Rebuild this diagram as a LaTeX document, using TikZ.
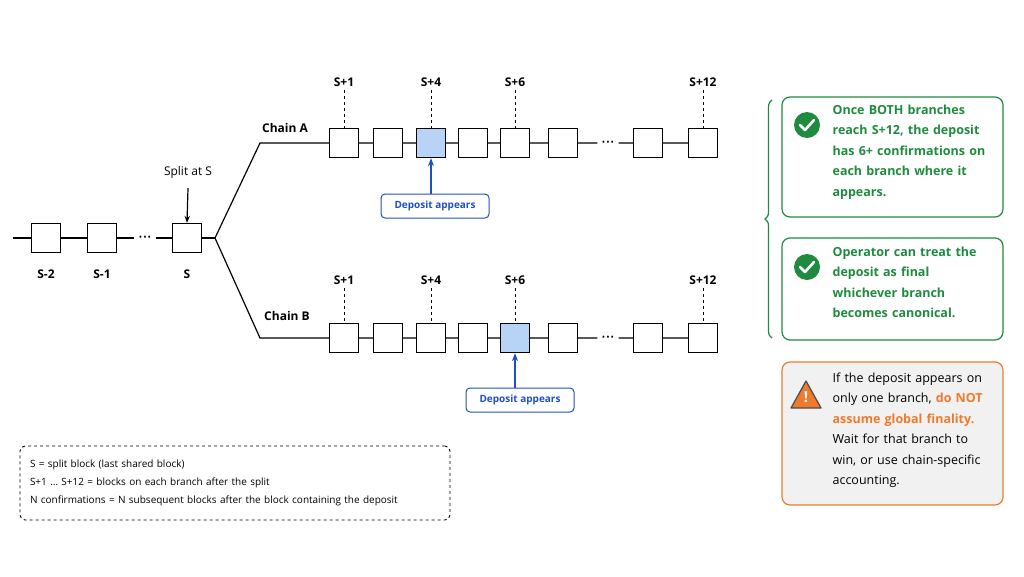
\documentclass[tikz,border=0pt]{standalone}
\usepackage{fontspec}
\setmainfont{Open Sans}
\usetikzlibrary{positioning,decorations.pathreplacing,arrows.meta}
\definecolor{okgreen}{HTML}{1E8B3E}
\definecolor{depblue}{HTML}{1F4FC4}
\definecolor{depfill}{HTML}{B7D3F5}
\definecolor{warnorange}{HTML}{F07A2B}
\definecolor{warnfill}{HTML}{F1F1F1}
\hyphenpenalty=10000
\newcommand{\threedots}{\textbullet\kern1pt\textbullet\kern1pt\textbullet}
\tikzset{
  every path/.style={line width=1.2pt},
  block/.style={draw, line width=1.2pt, fill=white, minimum size=29pt, inner sep=0pt},
  dep/.style={block, fill=depfill},
  dots/.style={inner sep=4pt, font=\fontsize{9}{9}\selectfont},
  lbl/.style={font=\fontsize{12}{14}\selectfont\bfseries},
  deplbl/.style={draw=depblue, line width=1pt, rounded corners=4pt, text=depblue, font=\fontsize{10}{12}\selectfont\bfseries, minimum width=108pt, minimum height=24pt},
  notebox/.style={draw=okgreen, rounded corners=8pt},
  notetext/.style={anchor=north west, inner sep=0pt, text width=172pt, align=left, text=okgreen, font=\fontsize{12.5}{20.5}\selectfont\bfseries},
}
\begin{document}
\begin{tikzpicture}[x=1pt,y=-1pt]
    \useasboundingbox (0,0) rectangle (1024,576);

    % Shared chain before the split
    \coordinate (start) at (13,238);
    \node[block] (s2) at (46,238) {};
    \node[block] (s1) at (102,238) {};
    \node[dots] (sd) at (145,238) {\threedots};
    \node[block] (s0) at (187,238) {};
    \coordinate (fork) at (215,238);
    \draw (start) -- (s2) -- (s1) -- (sd) -- (s0) -- (fork);
    \node[lbl] at (46,274) {S-2};
    \node[lbl] at (102,274) {S-1};
    \node[lbl] at (187,274) {S};
    \node[font=\fontsize{12}{14}\selectfont] (split) at (188,172) {Split at S};
    \coordinate (sp) at (188,188);
    \draw[-{Stealth[length=7pt]}] (sp) -- (s0.north);

    % Two branches
    \coordinate (bendA) at (260,143);
    \coordinate (bendB) at (260,338);
    \node[lbl] at (285,128) {Chain A};
    \node[lbl] at (287,316) {Chain B};
    \foreach \c/\y/\d in {a/143/3, b/338/5} {
        \foreach \x [count=\i] in {344,388,431,473,515,563} {
            \ifnum\i=\d
                \node[dep] (\c\i) at (\x,\y) {};
            \else
                \node[block] (\c\i) at (\x,\y) {};
            \fi
        }
        \node[dots] (\c d) at (608,\y) {\threedots};
        \node[block] (\c 7) at (648,\y) {};
        \node[block] (\c 8) at (703,\y) {};
    }
    \draw (fork) -- (bendA) -- (a1) -- (a2) -- (a3) -- (a4) -- (a5) -- (a6) -- (ad) -- (a7) -- (a8);
    \draw (fork) -- (bendB) -- (b1) -- (b2) -- (b3) -- (b4) -- (b5) -- (b6) -- (bd) -- (b7) -- (b8);

    % Height labels
    \foreach \c/\ly in {a/82, b/280} {
        \foreach \i/\t in {1/S+1, 3/S+4, 5/S+6, 8/S+12} {
            \node[lbl] (\c l\i) at (\c\i |- 0,\ly) {\t};
            \draw[dashed, line width=0.9pt] (\c l\i.south) -- (\c\i.north);
        }
    }

    % Deposit markers
    \node[deplbl] (depA) at (435,206) {Deposit appears};
    \node[deplbl] (depB) at (520,400) {Deposit appears};
    \draw[-{Stealth[length=8pt]}, depblue] (depA.north -| a3) -- (a3.south);
    \draw[-{Stealth[length=8pt]}, depblue] (depB.north -| b5) -- (b5.south);

    % Notes on the right
    \draw[notebox] (782,97) rectangle (1003,217);
    \draw[notebox] (782,238) rectangle (1003,340);
    \node[notetext] (n1) at (832,104) {Once BOTH branches\\ reach S+12, the deposit\\ has 6+ confirmations on\\ each branch where it\\ appears.};
    \node[notetext] (n2) at (832,246) {Operator can treat the\\ deposit as final\\ whichever branch\\ becomes canonical.};
    \draw[okgreen, decorate, decoration={brace, amplitude=7pt}] (772,338) -- (772,100);
    \foreach \y in {125, 267} {
        \fill[okgreen] (807,\y) circle (13);
        \draw[white, line width=2.6pt, line cap=round, line join=round] (800,\y) -- ++(5,5) -- ++(9,-10);
    }
    \draw[draw=warnorange, fill=warnfill, rounded corners=8pt] (782,362) rectangle (1003,505);
    \node[notetext, text=black, font=\fontsize{12.5}{20.5}\selectfont] (n3) at (832,372) {If the deposit appears on\\ only one branch, \textcolor{warnorange}{\bfseries do NOT}\\ \textcolor{warnorange}{\bfseries assume global finality.}\\ Wait for that branch to\\ win, or use chain-specific\\ accounting.};
    \draw[fill=warnorange, draw=black!70, line join=round] (791,408) -- (806,381) -- (821,408) -- cycle;
    \node[white, font=\fontsize{15}{15}\selectfont\bfseries] at (806,397) {!};

    % Legend
    \node[draw, dashed, line width=0.9pt, rounded corners=5pt, minimum width=430pt, minimum height=74pt, text width=410pt, align=left, font=\fontsize{10}{18}\selectfont] (legend) at (235,483) {S = split block (last shared block)\\ S+1 \dots\ S+12 = blocks on each branch after the split\\ N confirmations = N subsequent blocks after the block containing the deposit};
\end{tikzpicture}
\end{document}
